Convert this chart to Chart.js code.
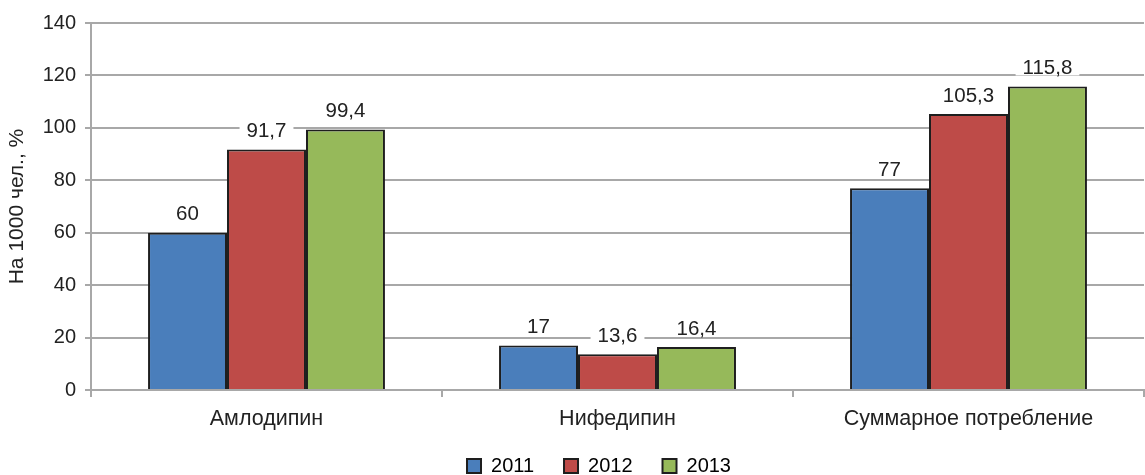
<!DOCTYPE html>
<html>
<head>
<meta charset="utf-8">
<script src="https://cdn.jsdelivr.net/npm/chart.js@4.4.1/dist/chart.umd.min.js"></script>
<style>
    html, body { margin: 0; padding: 0; background: #fff; overflow: hidden; }
    #wrap { width: 1145px; height: 475px; position: relative; }
</style>
</head>
<body>
<div id="wrap"><canvas id="drugChart"></canvas></div>
<script>
// Chart data
const categories = ['Амлодипин', 'Нифедипин', 'Суммарное потребление'];
const years = ['2011', '2012', '2013'];
const values2011 = [60, 17, 77];
const values2012 = [91.7, 13.6, 105.3];
const values2013 = [99.4, 16.4, 115.8];
const yTicks = [0, 20, 40, 60, 80, 100, 120, 140];

const colors = ['#4a7ebb', '#be4b48', '#96b95a'];
const fontFamily = '"Liberation Sans", Arial, sans-serif';
const textColor = '#222222';
const gridColor = '#a8a8a8';

// Value labels above bars (decimal comma, white box behind)
const valueLabels = {
    id: 'valueLabels',
    afterDatasetsDraw(chart) {
        const ctx = chart.ctx;
        ctx.save();
        ctx.font = '20.5px ' + fontFamily;
        ctx.textAlign = 'center';
        ctx.textBaseline = 'middle';
        chart.data.datasets.forEach((ds, i) => {
            chart.getDatasetMeta(i).data.forEach((bar, j) => {
                const txt = String(ds.data[j]).replace('.', ',');
                const w = ctx.measureText(txt).width;
                const cy = bar.y - 18;
                ctx.fillStyle = '#ffffff';
                ctx.fillRect(bar.x - w / 2 - 7, cy - 7, w + 14, 14);
                ctx.fillStyle = textColor;
                ctx.fillText(txt, bar.x, cy);
            });
        });
        ctx.restore();
    }
};

// Legend: fixed height and moved a little, like the original
const legendTweak = {
    id: 'legendTweak',
    beforeLayout(chart) {
        const lg = chart.legend;
        if (lg && !lg._patched) {
            const origFit = lg.fit.bind(lg);
            lg.fit = function() {
                origFit();
                this.height = 40;
            };
            lg._patched = true;
        }
    },
    afterLayout(chart) {
        const lg = chart.legend;
        if (lg) {
            lg.left += 27;
            lg.right += 27;
            lg.top = 426;
            lg.bottom = 475;
        }
    }
};

document.addEventListener('DOMContentLoaded', function() {
    const ctx = document.getElementById('drugChart').getContext('2d');
    new Chart(ctx, {
        type: 'bar',
        data: {
            labels: categories,
            datasets: [
                { label: years[0], data: values2011, backgroundColor: colors[0] },
                { label: years[1], data: values2012, backgroundColor: colors[1] },
                { label: years[2], data: values2013, backgroundColor: colors[2] }
            ].map(ds => Object.assign(ds, {
                borderColor: '#1e1e1e',
                borderWidth: 2,
                categoryPercentage: 0.675,
                barPercentage: 1.0
            }))
        },
        options: {
            responsive: true,
            maintainAspectRatio: false,
            animation: false,
            layout: { padding: { top: 23, right: 1, left: 0, bottom: 0 } },
            plugins: {
                tooltip: { enabled: false },
                legend: {
                    position: 'bottom',
                    labels: {
                        boxWidth: 14,
                        boxHeight: 14,
                        padding: 30,
                        color: textColor,
                        font: { family: fontFamily, size: 20 },
                        generateLabels(chart) {
                            return chart.data.datasets.map((ds, i) => ({
                                text: ds.label,
                                fillStyle: ds.backgroundColor,
                                strokeStyle: '#1e1e1e',
                                lineWidth: 2,
                                datasetIndex: i
                            }));
                        }
                    }
                }
            },
            scales: {
                x: {
                    grid: {
                        offset: true,
                        drawOnChartArea: false,
                        color: gridColor,
                        lineWidth: 2,
                        tickLength: 7
                    },
                    border: { color: gridColor, width: 2 },
                    ticks: {
                        color: textColor,
                        padding: 9,
                        font: { family: fontFamily, size: 21.5 }
                    },
                    afterFit(scale) { scale.height = 45; }
                },
                y: {
                    min: 0,
                    max: 140,
                    afterBuildTicks(scale) {
                        scale.ticks = yTicks.map(v => ({ value: v }));
                    },
                    grid: {
                        color: gridColor,
                        lineWidth: 2,
                        tickLength: 6
                    },
                    border: { color: gridColor, width: 2 },
                    ticks: {
                        color: textColor,
                        padding: 9,
                        font: { family: fontFamily, size: 20 }
                    },
                    title: {
                        display: true,
                        text: 'На 1000 чел., %',
                        color: textColor,
                        padding: { top: 5, bottom: 0 },
                        font: { family: fontFamily, size: 21 }
                    },
                    afterFit(scale) { scale.width = 91; }
                }
            }
        },
        plugins: [valueLabels, legendTweak]
    });
});
</script>
</body>
</html>
